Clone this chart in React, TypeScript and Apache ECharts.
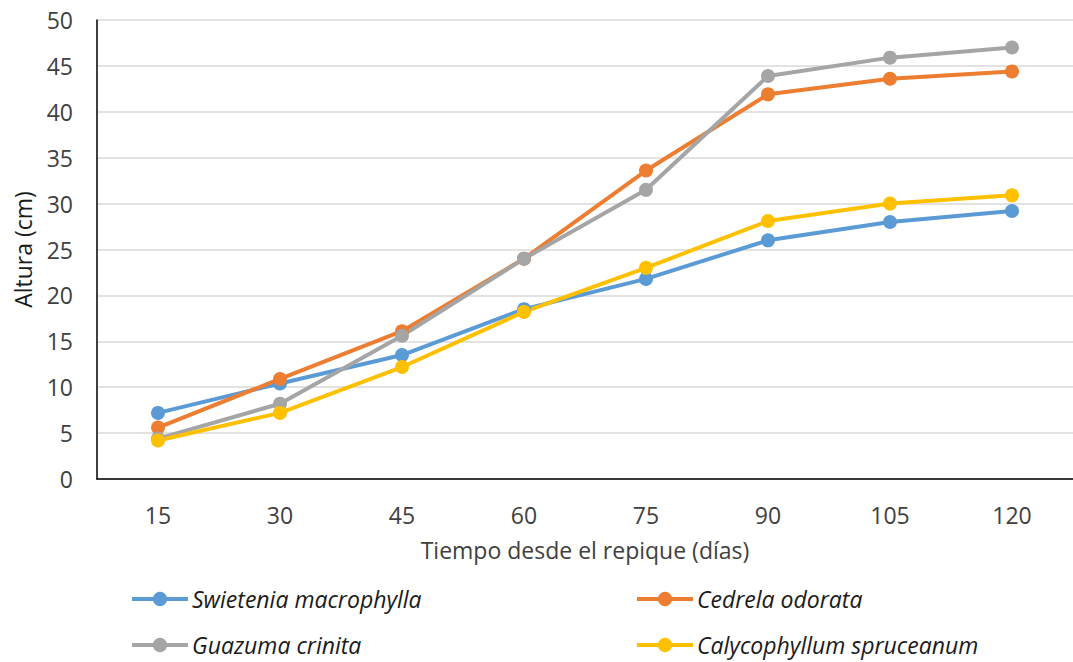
import React, { useEffect, useRef } from "react";
import * as echarts from "echarts";

const categories = ["15", "30", "45", "60", "75", "90", "105", "120"];
const swietenia = [7.2, 10.4, 13.5, 18.5, 21.8, 26.0, 28.0, 29.2];
const cedrela = [5.6, 10.9, 16.1, 24.0, 33.6, 41.9, 43.6, 44.4];
const guazuma = [4.4, 8.2, 15.6, 24.0, 31.5, 43.9, 45.9, 47.0];
const calycophyllum = [4.2, 7.2, 12.2, 18.2, 23.0, 28.1, 30.0, 30.9];
const seriesNames = [
  "Swietenia macrophylla",
  "Cedrela odorata",
  "Guazuma crinita",
  "Calycophyllum spruceanum",
];
const colors = ["#5B9BD5", "#ED7D31", "#A5A5A5", "#FFC000"];

const FONT = "Open Sans";

export default function App() {
  const ref = useRef<HTMLDivElement>(null);
  useEffect(() => {
    document.body.style.margin = "0";
    const chart = echarts.init(ref.current!, null, { renderer: "svg" });
    const data = [swietenia, cedrela, guazuma, calycophyllum];
    const legendText = {
      fontSize: 23,
      lineHeight: 24,
      fontStyle: "italic",
      fontFamily: FONT,
      color: "#1a1a1a",
      padding: [0, 0, 0, -1],
    };
    const legendBase = {
      orient: "vertical",
      top: 587,
      padding: 0,
      itemWidth: 56,
      itemHeight: 18,
      itemGap: 22,
      lineStyle: { width: 4 },
      textStyle: legendText,
    };
    chart.setOption({
      animation: false,
      grid: { left: 97, top: 20, width: 979, bottom: 183, containLabel: false },
      xAxis: {
        type: "category",
        data: categories,
        boundaryGap: true,
        axisLine: { lineStyle: { color: "#000", width: 1.5 } },
        axisTick: { show: false },
        axisLabel: { color: "#404040", fontSize: 23, fontFamily: FONT, margin: 24 },
        name: "Tiempo desde el repique (días)",
        nameLocation: "middle",
        nameGap: 59,
        nameTextStyle: { color: "#404040", fontSize: 23, fontFamily: FONT },
      },
      yAxis: {
        type: "value",
        min: 0,
        max: 50,
        interval: 5,
        axisLine: { show: true, lineStyle: { color: "#000", width: 1.5 } },
        axisTick: { show: false },
        splitLine: { lineStyle: { color: "#D9D9D9", width: 1.5 } },
        axisLabel: { color: "#404040", fontSize: 23, fontFamily: FONT, margin: 24 },
        name: "Altura (cm)",
        nameLocation: "middle",
        nameGap: 63,
        nameTextStyle: { color: "#1a1a1a", fontSize: 23, fontFamily: FONT },
      },
      legend: [
        { ...legendBase, left: 130, data: [seriesNames[0], seriesNames[2]] },
        { ...legendBase, left: 635, data: [seriesNames[1], seriesNames[3]] },
      ],
      series: seriesNames.map((n, i) => ({
        name: n,
        type: "line",
        data: data[i],
        symbol: "circle",
        symbolSize: 14,
        lineStyle: { color: colors[i], width: 4 },
        itemStyle: { color: colors[i] },
      })),
    });
    return () => chart.dispose();
  }, []);
  return <div ref={ref} style={{ width: 1073, height: 662 }} />;
}
